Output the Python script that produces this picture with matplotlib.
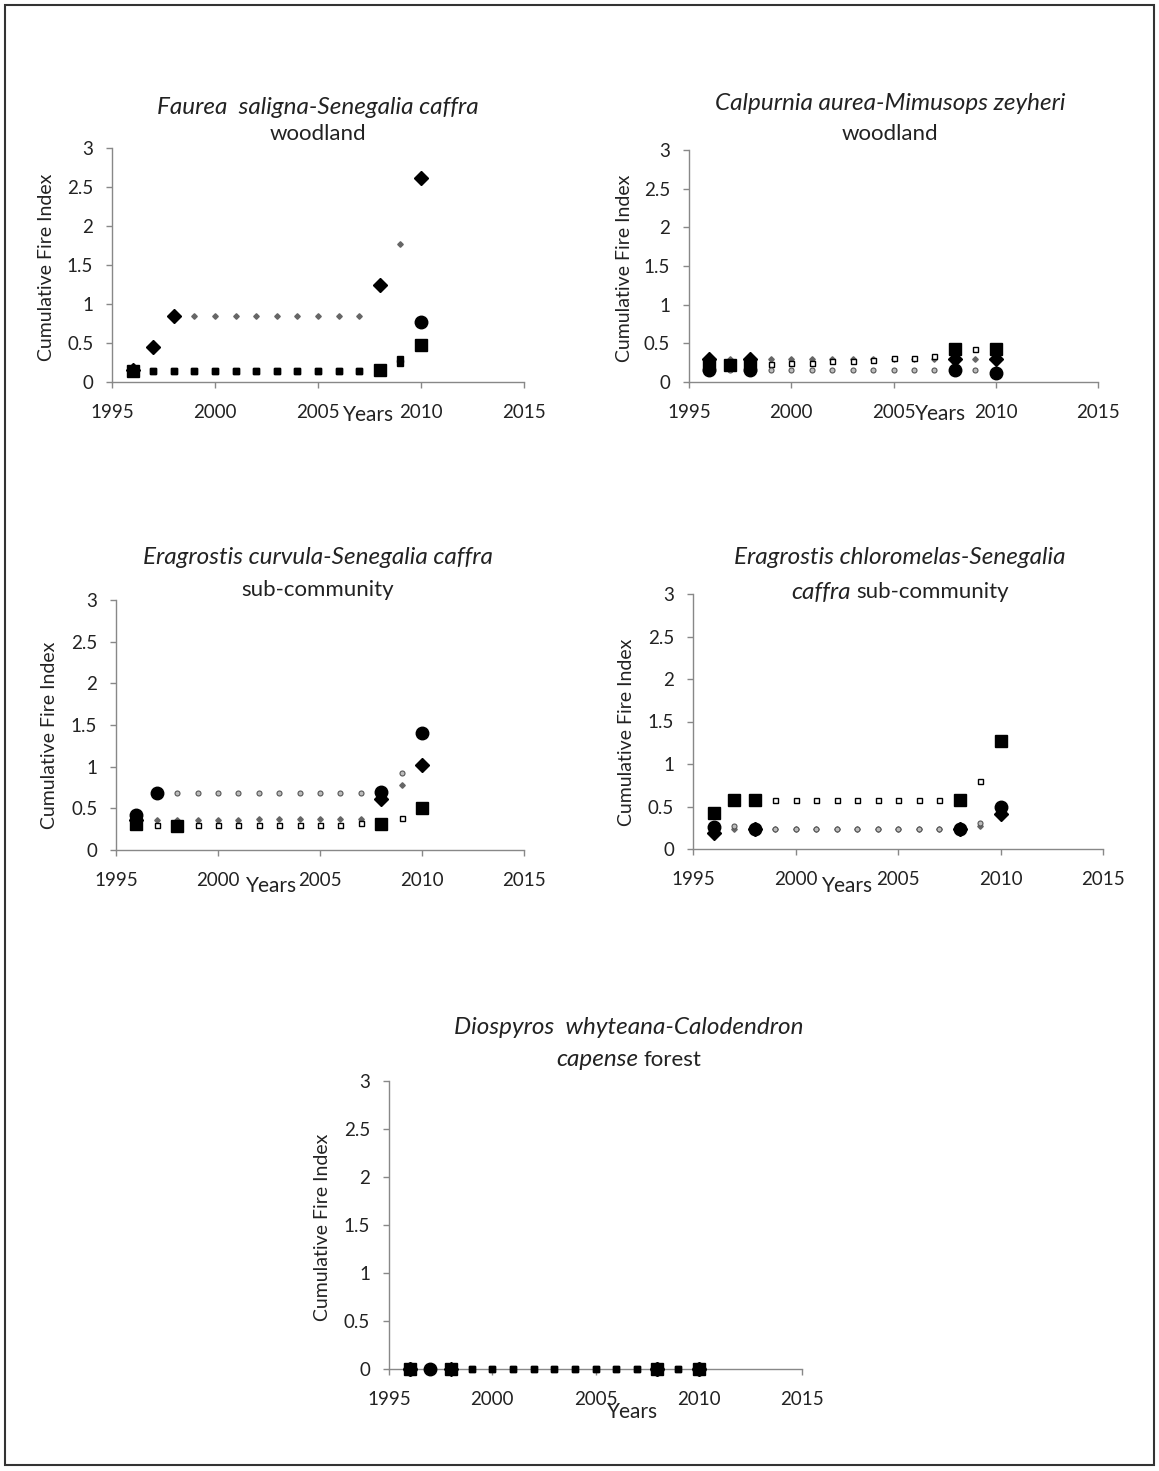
import numpy as np
import matplotlib.pyplot as plt
from matplotlib.patches import Rectangle

plt.rcParams['font.family'] = ['Lato', 'DejaVu Sans']

W, H = 1159, 1471
years = [1996, 1997, 1998, 1999, 2000, 2001, 2002, 2003, 2004, 2005, 2006, 2007, 2008, 2009, 2010]

# Faurea saligna-Senegalia caffra woodland
p1_diamond = [0.16, 0.45, 0.84, 0.84, 0.84, 0.84, 0.84, 0.84, 0.84, 0.84, 0.85, 0.85, 1.24, 1.77, 2.61]
p1_square = [0.14, 0.14, 0.14, 0.14, 0.14, 0.14, 0.14, 0.14, 0.14, 0.14, 0.14, 0.14, 0.15, 0.25, 0.48]
p1_circle = [0.14, 0.14, 0.14, 0.14, 0.14, 0.14, 0.14, 0.14, 0.14, 0.14, 0.14, 0.14, 0.14, 0.30, 0.77]
p1_big = {'D': [1996, 1997, 1998, 2008, 2010], 's': [1996, 2008, 2010], 'o': [2010]}

# Calpurnia aurea-Mimusops zeyheri woodland
p2_diamond = [0.30, 0.30, 0.30, 0.30, 0.30, 0.30, 0.30, 0.30, 0.30, 0.30, 0.30, 0.30, 0.30, 0.30, 0.30]
p2_square = [0.22, 0.22, 0.22, 0.23, 0.25, 0.25, 0.27, 0.27, 0.29, 0.31, 0.31, 0.33, 0.43, 0.43, 0.43]
p2_circle = [0.15, 0.15, 0.15, 0.15, 0.15, 0.15, 0.15, 0.15, 0.15, 0.15, 0.15, 0.15, 0.15, 0.15, 0.12]
p2_big = {'D': [1996, 1998, 2008, 2010], 's': [1996, 1997, 1998, 2008, 2010], 'o': [1996, 1998, 2008, 2010]}

# Eragrostis curvula-Senegalia caffra sub-community
p3_diamond = [0.36, 0.36, 0.36, 0.36, 0.36, 0.36, 0.37, 0.37, 0.37, 0.37, 0.37, 0.37, 0.61, 0.78, 1.02]
p3_square = [0.31, 0.30, 0.29, 0.30, 0.30, 0.30, 0.30, 0.30, 0.30, 0.30, 0.30, 0.32, 0.31, 0.38, 0.50]
p3_circle = [0.42, 0.69, 0.69, 0.69, 0.69, 0.69, 0.69, 0.69, 0.69, 0.69, 0.69, 0.69, 0.70, 0.92, 1.41]
p3_big = {'D': [1996, 2008, 2010], 's': [1996, 1998, 2008, 2010], 'o': [1996, 1997, 2008, 2010]}

# Eragrostis chloromelas-Senegalia caffra sub-community
p4_diamond = [0.19, 0.24, 0.23, 0.23, 0.23, 0.23, 0.23, 0.23, 0.23, 0.23, 0.23, 0.23, 0.23, 0.27, 0.41]
p4_square = [0.42, 0.58, 0.58, 0.58, 0.58, 0.58, 0.58, 0.58, 0.58, 0.58, 0.58, 0.58, 0.58, 0.80, 1.27]
p4_circle = [0.26, 0.27, 0.23, 0.23, 0.23, 0.23, 0.23, 0.23, 0.23, 0.23, 0.23, 0.23, 0.23, 0.31, 0.50]
p4_big = {'D': [1996, 1998, 2008, 2010], 's': [1996, 1997, 1998, 2008, 2010], 'o': [1996, 1998, 2008, 2010]}

# Diospyros whyteana-Calodendron capense forest
p5_diamond = [0] * 15
p5_square = [0] * 15
p5_circle = [0] * 15
p5_big = {'D': [1996, 1998, 2008, 2010], 's': [1996, 1998, 2008, 2010], 'o': [1996, 1997, 2008, 2010]}

x_ticks = [1995, 2000, 2005, 2010, 2015]
y_ticks = [0, 0.5, 1, 1.5, 2, 2.5, 3]
y_ticklabels = ['0', '0.5', '1', '1.5', '2', '2.5', '3']

TXT = '#222222'
AXC = '#888888'

big_style = {'D': dict(ms=7, color='black'),
             's': dict(ms=8, color='black'),
             'o': dict(ms=9, color='black')}


def small_style(m, solid):
    if m == 'D':
        return dict(ms=2.8, color='#666666')
    if solid:
        return dict(ms=3.8, color='black')
    if m == 's':
        return dict(ms=3.6, mfc='white', mec='black', mew=1.0)
    return dict(ms=3.6, mfc='#bbbbbb', mec='#555555', mew=0.8)


def px_axes(l, r, t, b):
    return [l / W, 1 - b / H, (r - l) / W, (b - t) / H]


def draw(ax, series, big, solid):
    yrs = np.array(years)
    for m, vals in series:
        v = np.array(vals, dtype=float)
        sel = np.isin(yrs, big[m])
        mk = 's' if (solid and m == 'o') else m
        ax.plot(yrs[~sel], v[~sel], ls='none', marker=mk, clip_on=False, zorder=3, **small_style(m, solid))
    for m, vals in series:
        v = np.array(vals, dtype=float)
        sel = np.isin(yrs, big[m])
        ax.plot(yrs[sel], v[sel], ls='none', marker=m, clip_on=False, zorder=4, **big_style[m])
    ax.set_xlim(1995, 2015)
    ax.set_ylim(0, 3)
    ax.set_xticks(x_ticks)
    ax.set_yticks(y_ticks)
    ax.set_yticklabels(y_ticklabels)
    for s in ['top', 'right']:
        ax.spines[s].set_visible(False)
    for s in ['left', 'bottom']:
        ax.spines[s].set_color(AXC)
        ax.spines[s].set_linewidth(1.0)
    ax.tick_params(direction='out', length=4.5, width=1.0, color=AXC,
                   labelsize=13.5, labelcolor=TXT)
    ax.tick_params(axis='y', pad=9)
    ax.tick_params(axis='x', pad=11)


fig = plt.figure(figsize=(W / 100, H / 100), dpi=100)

panels = [
    ((112, 524, 148, 382), [('D', p1_diamond), ('s', p1_square), ('o', p1_circle)], p1_big, True),
    ((689, 1098, 150, 382), [('D', p2_diamond), ('s', p2_square), ('o', p2_circle)], p2_big, False),
    ((116, 524, 600, 850), [('D', p3_diamond), ('s', p3_square), ('o', p3_circle)], p3_big, False),
    ((693, 1103, 594, 849), [('D', p4_diamond), ('s', p4_square), ('o', p4_circle)], p4_big, False),
    ((389, 802, 1081, 1369), [('D', p5_diamond), ('s', p5_square), ('o', p5_circle)], p5_big, True),
]

for (l, r, t, b), series, big, solid in panels:
    ax = fig.add_axes(px_axes(l, r, t, b))
    draw(ax, series, big, solid)


def ftext(x, y, s, **kw):
    return fig.text(x / W, 1 - y / H, s, **kw)


IT = 17.5
RG = 16
renderer = fig.canvas.get_renderer()


def mixed_line(xc, y, parts):
    # parts: list of (text, italic); drawn side by side, centred on xc
    objs = []
    for s, it in parts:
        t = ftext(0, y, s, fontsize=IT if it else RG, style='italic' if it else 'normal',
                  ha='left', va='center', color=TXT)
        objs.append(t)
    widths = [o.get_window_extent(renderer).width for o in objs]
    gap = 5
    total = sum(widths) + gap * (len(objs) - 1)
    x = xc - total / 2
    for o, w in zip(objs, widths):
        o.set_x(x / W)
        x += w + gap


mixed_line(318, 108, [('Faurea  saligna-Senegalia caffra', True)])
mixed_line(318, 134, [('woodland', False)])
mixed_line(890, 103, [('Calpurnia aurea-Mimusops zeyheri', True)])
mixed_line(890, 134, [('woodland', False)])
mixed_line(318, 557, [('Eragrostis curvula-Senegalia caffra', True)])
mixed_line(318, 590, [('sub-community', False)])
mixed_line(900, 558, [('Eragrostis chloromelas-Senegalia', True)])
mixed_line(900, 592, [('caffra', True), ('sub-community', False)])
mixed_line(629, 1027, [('Diospyros  whyteana-Calodendron', True)])
mixed_line(629, 1060, [('capense', True), ('forest', False)])

ylab_kw = dict(fontsize=14, rotation=90, ha='center', va='center', color=TXT)
ftext(47, 267, 'Cumulative Fire Index', **ylab_kw)
ftext(625, 268, 'Cumulative Fire Index', **ylab_kw)
ftext(50, 735, 'Cumulative Fire Index', **ylab_kw)
ftext(627, 732, 'Cumulative Fire Index', **ylab_kw)
ftext(322, 1227, 'Cumulative Fire Index', **ylab_kw)

xlab_kw = dict(fontsize=15, ha='center', va='center', color=TXT)
ftext(369, 415, 'Years', **xlab_kw)
ftext(941, 414, 'Years', **xlab_kw)
ftext(272, 886, 'Years', **xlab_kw)
ftext(848, 886, 'Years', **xlab_kw)
ftext(633, 1412, 'Years', **xlab_kw)

fig.patches.append(Rectangle((5 / W, 1 - 1465 / H), 1149 / W, 1460 / H, transform=fig.transFigure,
                             fill=False, edgecolor='#333333', linewidth=1.5))

fig.savefig('out.png', dpi=100, facecolor='white')
